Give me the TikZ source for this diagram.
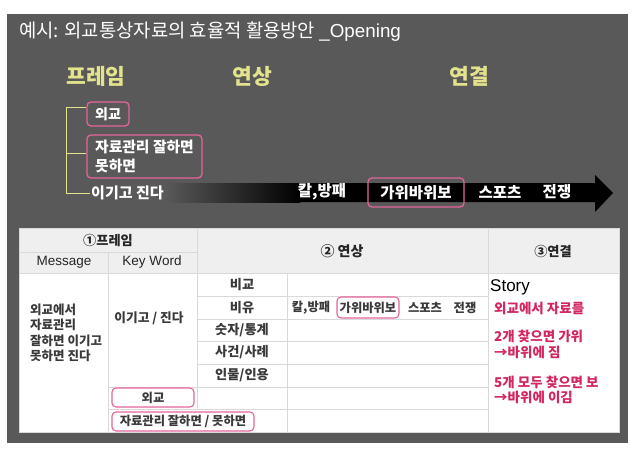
\documentclass[tikz,border=0pt]{standalone}
\usepackage{fontspec}
\setmainfont{Noto Sans CJK KR}
\newfontfamily\lat{Liberation Sans}
\definecolor{panel}{HTML}{595959}
\definecolor{ylw}{HTML}{E2E38C}
\definecolor{pnk}{HTML}{E2649A}
\definecolor{hdr}{HTML}{EFEFEF}
\definecolor{gridc}{HTML}{D9D9D9}
\definecolor{txt}{HTML}{3A3A3A}
\definecolor{storyred}{HTML}{D3255F}
\tikzset{
  pbox/.style={draw=pnk, line width=1.3pt, rounded corners=4pt, inner sep=1pt},
  heading/.style={text=ylw, font=\bfseries\fontsize{21.5}{24}\selectfont},
  wtxt/.style={text=white, font=\bfseries\fontsize{15.5}{18}\selectfont, inner sep=1pt},
  ttxt/.style={text=txt, font=\bfseries\fontsize{13.2}{15}\selectfont, inner sep=1pt},
  htxt/.style={text=black!85, font=\lat\fontsize{13.5}{15}\selectfont, inner sep=1pt},
  rtxt/.style={text=storyred, font=\bfseries\fontsize{13.5}{15}\selectfont, inner sep=1pt, anchor=west},
  ctxt/.style={ttxt, font=\bfseries\fontsize{12.3}{14}\selectfont},
  gline/.style={draw=gridc, line width=0.8pt},
  bline/.style={draw=ylw, line width=1pt}
}
\begin{document}
\begin{tikzpicture}[x=1pt,y=-1pt]
\useasboundingbox (0,0) rectangle (640,458);
\fill[white] (0,0) rectangle (640,458);
\fill[panel] (7,14) rectangle (628,443);
% title
\node[anchor=west, text=white, font=\fontsize{18.8}{20}\selectfont, inner sep=0] (title) at (19,32) {예시: 외교통상자료의 효율적 활용방안 {\lat\_Opening}};
% headings
\node[heading] (h1) at (96,76) {프레임};
\node[heading] (h2) at (252,76) {연상};
\node[heading] (h3) at (469,76) {연결};
% arrow
\shade[left color=panel, right color=black] (165,183) rectangle (300,202);
\fill[black] (299,183) -- (595,183) -- (595,175) -- (613,193) -- (595,212) -- (595,202) -- (299,202) -- cycle;
% frame items
\node[pbox, wtxt, minimum width=42pt, minimum height=24pt, font=\bfseries\fontsize{14}{16}\selectfont] (wg) at (108,114) {외교};
\node[pbox, wtxt, minimum width=115pt, minimum height=43pt, align=left, font=\bfseries\fontsize{14.8}{19}\selectfont] (jr) at (144.5,156.5) {자료관리 잘하면\\못하면};
\node[wtxt, anchor=west, font=\bfseries\fontsize{15}{17}\selectfont] (ig) at (90,193) {이기고 진다};
\coordinate (b1) at (66,107);
\coordinate (b2) at (66,153);
\coordinate (b3) at (66,193);
\draw[bline] (b1) -- (b3);
\draw[bline] (b1) -- (b1 -| wg.west);
\draw[bline] (b2) -- (b2 -| jr.west);
\draw[bline] (b3) -- (ig.west);
% arrow labels
\node[wtxt] (a1) at (322,192) {칼,방패};
\node[pbox, wtxt, minimum width=96pt, minimum height=29pt] (a2) at (416,192.5) {가위바위보};
\node[wtxt] (a3) at (500,192) {스포츠};
\node[wtxt] (a4) at (557,192) {전쟁};
% table
\fill[white] (19,228) rectangle (619,432);
\fill[hdr] (19,228) rectangle (619,273);
\draw[gline] (19,252) -- (197,252);
\draw[gline] (19,273) -- (619,273);
\foreach \yy in {296,319,341,364} {\draw[gline] (197,\yy) -- (488,\yy);}
\draw[gline] (108,387) -- (488,387);
\draw[gline] (108,409) -- (488,409);
\draw[gline] (108,252) -- (108,432);
\draw[gline] (197,228) -- (197,409);
\draw[gline] (287,273) -- (287,432);
\draw[gline] (488,228) -- (488,432);
\draw[gline] (19,228) rectangle (619,432);
% header texts
\node[ttxt, text=black!85] (th1) at (108,240) {①프레임};
\node[htxt] (th2) at (64,262) {Message};
\node[htxt] (th3) at (152,262) {Key Word};
\node[ttxt, text=black!85, font=\bfseries\fontsize{14}{16}\selectfont] (th4) at (342,251) {② 연상};
\node[ttxt, text=black!85] (th5) at (553,251) {③연결};
% body
\node[ttxt, anchor=north west, align=left, font=\bfseries\fontsize{12.5}{15.5}\selectfont] (msg) at (29,302.5) {외교에서\\자료관리\\잘하면 이기고\\못하면 진다};
\node[ttxt, font=\bfseries\fontsize{12.7}{15}\selectfont] (kw) at (149,318) {이기고 / 진다};
\node[ttxt] (s1) at (242,284.5) {비교};
\node[ttxt] (s2) at (242,307.5) {비유};
\node[ttxt] (s3) at (242,330) {숫자/통계};
\node[ttxt] (s4) at (242,352.5) {사건/사례};
\node[ttxt] (s5) at (242,375.5) {인물/인용};
\node[ctxt] (c1) at (311,307.5) {칼,방패};
\node[pbox, ctxt, line width=1.1pt, minimum width=62pt, minimum height=21pt] (c2) at (368,307.5) {가위바위보};
\node[ctxt] (c3) at (425,307.5) {스포츠};
\node[ctxt] (c4) at (465,307.5) {전쟁};
\node[pbox, ctxt, line width=1.1pt, minimum width=82pt, minimum height=19pt] (k1) at (153,397.5) {외교};
\node[pbox, ctxt, line width=1.1pt, minimum width=142pt, minimum height=19pt] (k2) at (183,421.5) {자료관리 잘하면 / 못하면};
% story
\node[anchor=west, inner sep=0, font=\lat\fontsize{17}{19}\selectfont] (st) at (490,287) {Story};
\node[rtxt] (r1) at (493,308) {외교에서 자료를};
\node[rtxt] (r2) at (493,336) {2개 찾으면 가위};
\node[rtxt] (r3) at (493,352) {→바위에 짐};
\node[rtxt] (r4) at (493,382) {5개 모두 찾으면 보};
\node[rtxt] (r5) at (493,397) {→바위에 이김};
\end{tikzpicture}
\end{document}
